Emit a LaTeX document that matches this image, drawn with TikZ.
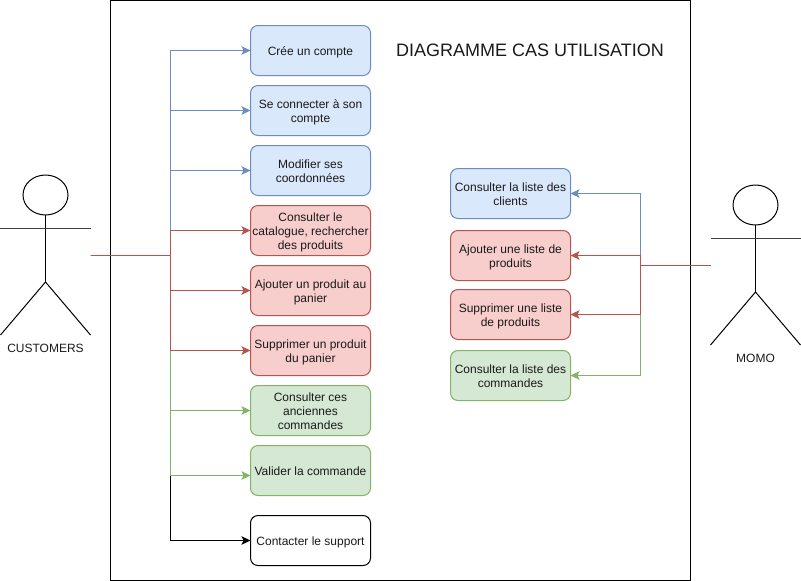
\documentclass[tikz,border=0pt]{standalone}
\usepackage{fontspec}
\setmainfont{Liberation Sans}
\usetikzlibrary{arrows.meta}
\definecolor{bluefill}{HTML}{DAE8FC}
\definecolor{bluestroke}{HTML}{6C8EBF}
\definecolor{redfill}{HTML}{F8CECC}
\definecolor{redstroke}{HTML}{B85450}
\definecolor{greenfill}{HTML}{D5E8D4}
\definecolor{greenstroke}{HTML}{82B366}
\definecolor{inktext}{HTML}{1A1A1A}
\tikzset{
  x=1pt,y=-1pt,
  usecase/.style={draw,rounded corners=7.5pt,line width=1pt,minimum width=120pt,minimum height=50pt,
    inner sep=0pt,outer sep=0pt,align=center,text=inktext,
    font=\fontsize{12}{14}\selectfont},
  bluecase/.style={usecase,draw=bluestroke,fill=bluefill},
  redcase/.style={usecase,draw=redstroke,fill=redfill},
  greencase/.style={usecase,draw=greenstroke,fill=greenfill},
  plaincase/.style={usecase,draw=black,fill=white},
  link/.style={line width=1pt,-{Stealth[length=9pt,width=8.5pt,inset=2pt]}},
  stick/.style={line width=1pt,draw=black},
  actorname/.style={inner sep=0pt,font=\fontsize{12}{14}\selectfont,text=inktext},
}
% lowers a case label slightly inside its box
\newcommand{\lbl}[1]{\raisebox{-2pt}[\height][\depth]{\begin{tabular}{@{}c@{}}#1\end{tabular}}}
\begin{document}
\begin{tikzpicture}
\useasboundingbox (0,0) rectangle (801,581);
% frame
\draw[line width=1pt,fill=white] (110.5,0.5) rectangle (690.5,580.5);
\node[inner sep=0pt,font=\fontsize{18}{22}\selectfont,text=inktext] (title) at (530,50) {DIAGRAMME CAS UTILISATION};

% left use cases
\node[bluecase] (c1) at (310.5,50.5) {\lbl{Crée un compte}};
\node[bluecase] (c2) at (310.5,110.5) {\lbl{Se connecter à son\\compte}};
\node[bluecase] (c3) at (310.5,170.5) {\lbl{Modifier ses\\coordonnées}};
\node[redcase] (c4) at (310.5,230.5) {\lbl{Consulter le\\catalogue, rechercher\\des produits}};
\node[redcase] (c5) at (310.5,290.5) {\lbl{Ajouter un produit au\\panier}};
\node[redcase] (c6) at (310.5,350.5) {\lbl{Supprimer un produit\\du panier}};
\node[greencase] (c7) at (310.5,410.5) {\lbl{Consulter ces\\anciennes\\commandes}};
\node[greencase] (c8) at (310.5,470.5) {\lbl{Valider la commande}};
\node[plaincase] (c9) at (310.5,540.5) {\lbl{Contacter le support}};

% right use cases
\node[bluecase] (m1) at (510.5,193.5) {\lbl{Consulter la liste des\\clients}};
\node[redcase] (m2) at (510.5,255.5) {\lbl{Ajouter une liste de\\produits}};
\node[redcase] (m3) at (510.5,314.5) {\lbl{Supprimer une liste\\de produits}};
\node[greencase] (m4) at (510.5,375.5) {\lbl{Consulter la liste des\\commandes}};

% actor customers
\coordinate (cneck) at (45.5,215);
\coordinate (chip) at (45.5,282);
\draw[stick] (45.5,195) ellipse (22.5 and 20);
\draw[stick] (cneck) -- (chip);
\draw[stick,draw=black!75] (0,228.5) -- (90.5,228.5);
\draw[stick] (0.5,335) -- (chip) -- (90.5,335);
\node[actorname] (cname) at (45.5,348) {CUSTOMERS};

% actor momo
\coordinate (mneck) at (755.5,225);
\coordinate (mhip) at (755.5,292);
\draw[stick] (755.5,205) ellipse (22.5 and 20);
\draw[stick] (mneck) -- (mhip);
\draw[stick,draw=black!75] (710.5,238.5) -- (800.5,238.5);
\draw[stick] (710.5,345) -- (mhip) -- (800.5,345);
\node[actorname] (mname) at (755.5,358) {MOMO};

% connector anchors
\coordinate (cout) at (90.5,255.5);
\coordinate (cbus) at (170.5,255.5);
\coordinate (mout) at (710.5,265.5);
\coordinate (mbus) at (640.5,265.5);
\coordinate (c8in) at (250.5,475.5);

% customers connectors (order gives the visible colour of the shared trunk)
\draw[link,black] (cout) -- (cbus) |- (c9.west);
\draw[link,greenstroke] (cout) -- (cbus) |- (c8in);
\draw[link,greenstroke] (cout) -- (cbus) |- (c7.west);
\draw[link,bluestroke] (cout) -- (cbus) |- (c1.west);
\draw[link,bluestroke] (cout) -- (cbus) |- (c2.west);
\draw[link,bluestroke] (cout) -- (cbus) |- (c3.west);
\draw[link,redstroke] (cout) -- (cbus) |- (c4.west);
\draw[link,redstroke] (cout) -- (cbus) |- (c5.west);
\draw[link,redstroke] (cout) -- (cbus) |- (c6.west);

% momo connectors
\draw[link,greenstroke] (mout) -- (mbus) |- (m4.east);
\draw[link,bluestroke] (mout) -- (mbus) |- (m1.east);
\draw[link,redstroke] (mout) -- (mbus) |- (m2.east);
\draw[link,redstroke] (mout) -- (mbus) |- (m3.east);
\end{tikzpicture}
\end{document}
